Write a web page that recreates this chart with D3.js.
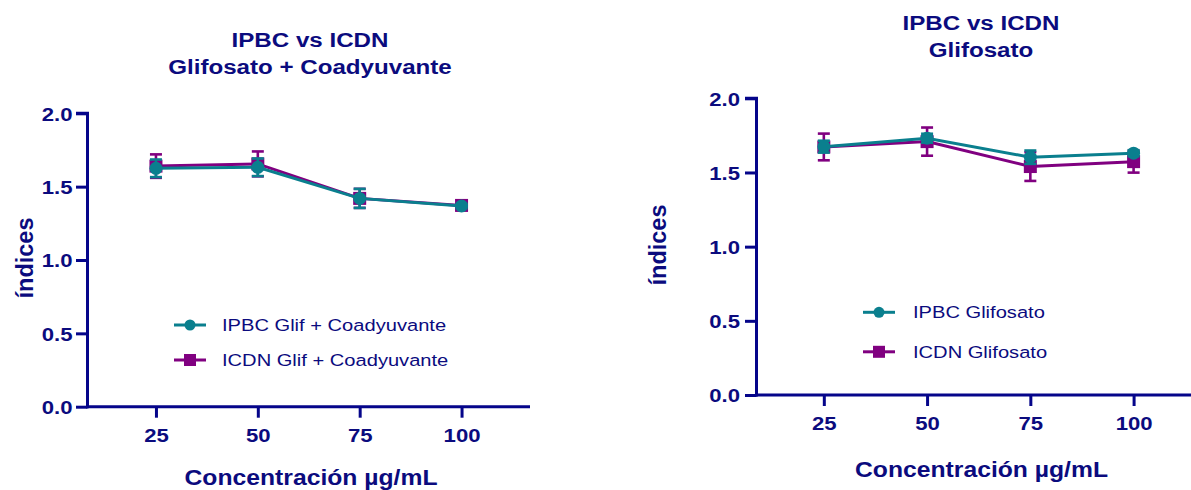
<!DOCTYPE html>
<html>
<head>
<meta charset="utf-8">
<script src="https://cdn.jsdelivr.net/npm/d3@7"></script>
<style>
  html, body { margin: 0; padding: 0; background: #ffffff; }
  svg { display: block; }
  text { font-family: "Liberation Sans", Arial, Helvetica, sans-serif; }
</style>
</head>
<body>
<svg id="chart" width="1191" height="490"></svg>
<script>
// Concentrations (µg/mL)
const concentrations = [25, 50, 75, 100];
const yTicks = [0, 0.5, 1.0, 1.5, 2.0];

// Glyphosate + adjuvant
const ipbcGlifCoad    = [1.625, 1.632, 1.42, 1.368];
const ipbcGlifCoadErr = [0.06, 0.06, 0.065, 0.015];
const icdnGlifCoad    = [1.64, 1.655, 1.42, 1.372];
const icdnGlifCoadErr = [0.08, 0.085, 0.065, 0.015];

// Glyphosate alone
const ipbcGlif    = [1.674, 1.731, 1.603, 1.63];
const ipbcGlifErr = [0.04, 0.03, 0.045, 0.02];
const icdnGlif    = [1.672, 1.708, 1.54, 1.573];
const icdnGlifErr = [0.09, 0.095, 0.097, 0.074];

const TEAL = "#0a7f8e";
const PURPLE = "#800080";
const NAVY = "#05058a";
const TEXT = "#0b0b7e";

const svg = d3.select("#chart");

function drawPanel(cfg) {
  const g = svg.append("g");
  const x = d3.scaleLinear().domain(cfg.xDomain).range([cfg.left, cfg.right]);
  const y = d3.scaleLinear().domain([0, 2]).range([cfg.bottom, cfg.top]);

  // Title (two lines)
  cfg.title.forEach((t, i) => {
    g.append("text")
      .attr("transform", `translate(${cfg.titleX},${cfg.titleY + i * 27}) scale(1.15,1)`)
      .attr("text-anchor", "middle")
      .attr("font-size", 21).attr("font-weight", "bold")
      .attr("fill", TEXT).text(t);
  });

  // Axes
  const yAxis = g.append("g")
    .attr("transform", `translate(${cfg.left},0)`)
    .call(d3.axisLeft(y).tickValues(yTicks).tickFormat(d3.format(".1f")).tickSize(11.5).tickPadding(5));
  const xAxis = g.append("g")
    .attr("transform", `translate(0,${cfg.bottom})`)
    .call(d3.axisBottom(x).tickValues(concentrations).tickFormat(d3.format("d")).tickSize(11).tickPadding(11));

  const tickSX = 1.19;
  [yAxis, xAxis].forEach(a => {
    a.select(".domain").attr("stroke", NAVY).attr("stroke-width", 3);
    a.selectAll(".tick line").attr("stroke", NAVY).attr("stroke-width", 3);
    a.selectAll(".tick text")
      .attr("fill", TEXT).attr("font-size", 18.6).attr("font-weight", "bold")
      .attr("font-family", "Liberation Sans, Arial, sans-serif");
  });
  yAxis.select(".domain").attr("d", `M0,${cfg.bottom + 1.5}V${cfg.top}H-11.5`);
  xAxis.select(".domain").attr("d", `M${cfg.left - 1.5},0H${cfg.right}`);
  yAxis.selectAll(".tick text").attr("dy", "0.36em")
    .attr("transform", `scale(${tickSX},1)`).attr("x", -cfg.yLabelGap / tickSX);
  xAxis.selectAll(".tick text").attr("transform", `scale(${tickSX},1)`);

  // Axis titles
  g.append("text")
    .attr("transform", `translate(${cfg.yTitleX},${cfg.yTitleY}) rotate(-90)`)
    .attr("text-anchor", "middle").attr("font-size", 23.5).attr("font-weight", "bold")
    .attr("fill", TEXT).text("índices");
  g.append("text")
    .attr("transform", `translate(${cfg.xTitleX},${cfg.xTitleY}) scale(1.075,1)`)
    .attr("text-anchor", "middle").attr("font-size", 23).attr("font-weight", "bold")
    .attr("fill", TEXT).text("Concentración µg/mL");

  const line = d3.line().x((d, i) => x(concentrations[i])).y(d => y(d));

  // Series: purple first, teal on top
  cfg.series.forEach(s => {
    const sg = g.append("g");
    // error bars
    s.values.forEach((v, i) => {
      const cx = x(concentrations[i]);
      const lo = y(v - s.err[i]), hi = y(v + s.err[i]);
      sg.append("line").attr("x1", cx).attr("x2", cx).attr("y1", lo).attr("y2", hi)
        .attr("stroke", s.color).attr("stroke-width", 2.6);
      [lo, hi].forEach(yy => sg.append("line")
        .attr("x1", cx - 6).attr("x2", cx + 6).attr("y1", yy).attr("y2", yy)
        .attr("stroke", s.color).attr("stroke-width", 2.6));
    });
    sg.append("path").datum(s.values).attr("d", line)
      .attr("fill", "none").attr("stroke", s.color).attr("stroke-width", 3);
    s.values.forEach((v, i) => {
      const cx = x(concentrations[i]), cy = y(v);
      if (s.shape === "circle") {
        sg.append("circle").attr("cx", cx).attr("cy", cy).attr("r", 6.5).attr("fill", s.color);
      } else {
        sg.append("rect").attr("x", cx - 6.5).attr("y", cy - 6.5)
          .attr("width", 13).attr("height", 13).attr("fill", s.color);
      }
    });
  });

  // Legend: teal entry first, purple second
  cfg.legend.forEach((L, i) => {
    const ly = cfg.legendY + i * cfg.legendGap;
    g.append("line").attr("x1", cfg.legendX).attr("x2", cfg.legendX + 32)
      .attr("y1", ly).attr("y2", ly).attr("stroke", L.color).attr("stroke-width", 3);
    if (L.shape === "circle") {
      g.append("circle").attr("cx", cfg.legendX + 16).attr("cy", ly).attr("r", 5.5).attr("fill", L.color);
    } else {
      g.append("rect").attr("x", cfg.legendX + 10).attr("y", ly - 6)
        .attr("width", 12).attr("height", 12).attr("fill", L.color);
    }
    g.append("text")
      .attr("transform", `translate(${cfg.legendTextX},${ly + 6}) scale(1.17,1)`)
      .attr("font-size", 17.2).attr("fill", TEXT).text(L.label);
  });
}

drawPanel({
  left: 87.5, right: 530, top: 113.3, bottom: 406.7,
  xDomain: [8.2, 116.8],
  yLabelGap: 15,
  title: ["IPBC vs ICDN", "Glifosato + Coadyuvante"],
  titleX: 310, titleY: 46.7,
  yTitleX: 33, yTitleY: 258,
  xTitleX: 311, xTitleY: 485,
  legendX: 174, legendTextX: 222, legendY: 325, legendGap: 35,
  series: [
    { values: icdnGlifCoad, err: icdnGlifCoadErr, color: PURPLE, shape: "square" },
    { values: ipbcGlifCoad, err: ipbcGlifCoadErr, color: TEAL, shape: "circle" }
  ],
  legend: [
    { label: "IPBC Glif + Coadyuvante", color: TEAL, shape: "circle" },
    { label: "ICDN Glif + Coadyuvante", color: PURPLE, shape: "square" }
  ]
});

drawPanel({
  left: 756.5, right: 1191, top: 98.3, bottom: 395,
  xDomain: [8.7, 113.9],
  yLabelGap: 16.5,
  title: ["IPBC vs ICDN", "Glifosato"],
  titleX: 981, titleY: 30,
  yTitleX: 666, yTitleY: 245,
  xTitleX: 981.5, xTitleY: 477,
  legendX: 863, legendTextX: 913, legendY: 312.3, legendGap: 39.5,
  series: [
    { values: icdnGlif, err: icdnGlifErr, color: PURPLE, shape: "square" },
    { values: ipbcGlif, err: ipbcGlifErr, color: TEAL, shape: "circle" }
  ],
  legend: [
    { label: "IPBC Glifosato", color: TEAL, shape: "circle" },
    { label: "ICDN Glifosato", color: PURPLE, shape: "square" }
  ]
});
</script>
</body>
</html>
